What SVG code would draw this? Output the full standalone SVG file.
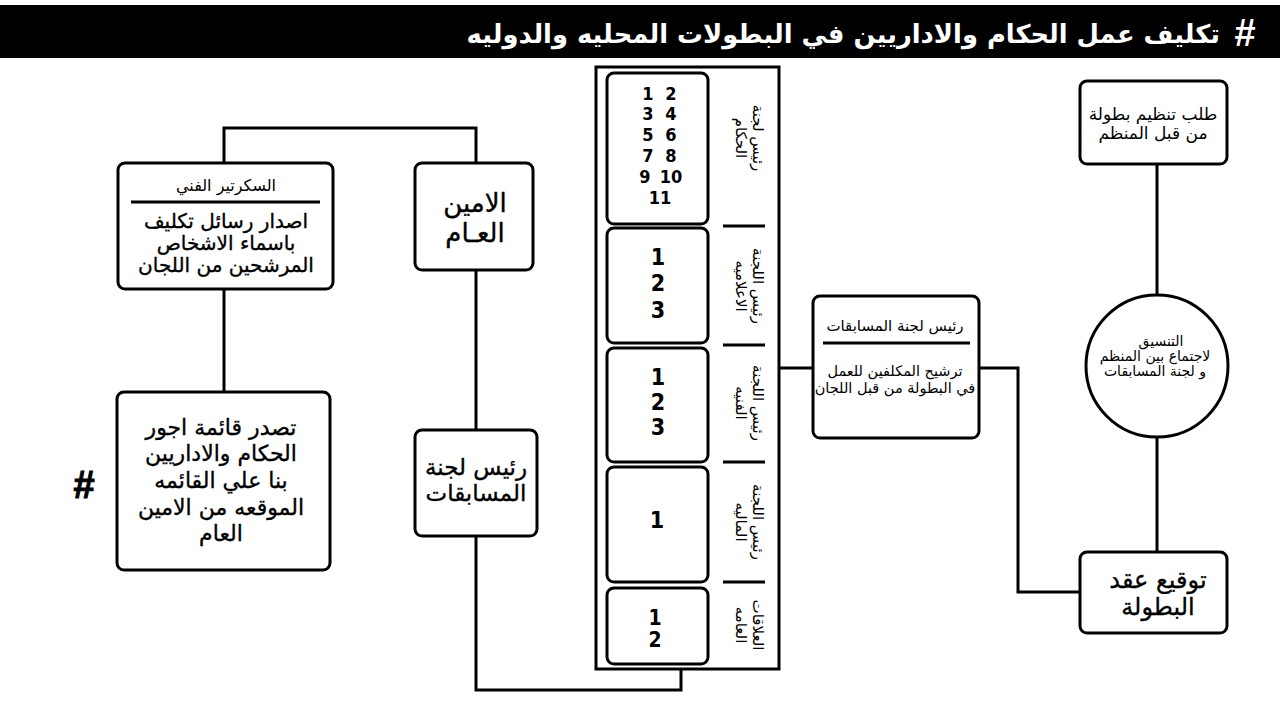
<svg xmlns="http://www.w3.org/2000/svg" width="1280" height="716" viewBox="0 0 1280 716">
<style>
.box{fill:#fff;stroke:#000;stroke-width:3}
.ln{fill:none;stroke:#000;stroke-width:3}
.ar{font-family:"DejaVu Sans",sans-serif;fill:#000;text-anchor:middle}
.thick{stroke:#000;stroke-width:0.35}
.num{font-family:"DejaVu Sans Condensed","Liberation Sans Narrow",sans-serif;fill:#000;text-anchor:middle;font-weight:bold}
.hash{font-family:"Liberation Sans",sans-serif;font-weight:bold;text-anchor:middle}
</style>
<rect x="0" y="0" width="1280" height="716" fill="#fff"/>
<g id="header">
<rect x="0" y="5" width="1280" height="53" fill="#000"/>
<text class="hash" x="1245" y="46" font-size="38" fill="#fff">#</text>
<text class="ar" x="1220" y="43" font-size="25.8" font-weight="bold" style="text-anchor:end;fill:#fff">تكليف عمل الحكام والاداريين في البطولات المحليه والدوليه</text>
</g>
<g id="connectors">
<path class="ln" d="M224,163 V128 H476 V163"/>
<path class="ln" d="M224,289 V392"/>
<path class="ln" d="M476,270 V430"/>
<path class="ln" d="M476,536 V690 H681 V669"/>
<path class="ln" d="M779,368 H813"/>
<path class="ln" d="M978,368 H1018 V592 H1080"/>
<path class="ln" d="M1157,163 V295"/>
<path class="ln" d="M1157,437 V552"/>
</g>
<g id="secretary">
<rect class="box" x="118" y="163" width="215" height="126" rx="7"/>
<line class="ln" x1="131" y1="202" x2="320" y2="202"/>
<text class="ar" x="226" y="191" font-size="16">السكرتير الفني</text>
<text class="ar thick" x="226" y="228" font-size="20">اصدار رسائل تكليف</text>
<text class="ar thick" x="226" y="250" font-size="20">باسماء الاشخاص</text>
<text class="ar thick" x="226" y="272" font-size="20">المرشحين من اللجان</text>
</g>
<g id="wages">
<rect class="box" x="117" y="392" width="213" height="178" rx="7"/>
<text class="ar thick" x="221" y="435" font-size="22">تصدر قائمة اجور</text>
<text class="ar thick" x="221" y="461" font-size="22">الحكام والاداريين</text>
<text class="ar thick" x="221" y="488" font-size="22">بنا علي القائمه</text>
<text class="ar thick" x="221" y="515" font-size="22">الموقعه من الامين</text>
<text class="ar thick" x="221" y="541" font-size="22">العام</text>
</g>
<text id="hash-left" class="hash" x="84" y="498" font-size="38" fill="#000" stroke="#000" stroke-width="1">#</text>
<g id="secretary-general">
<rect class="box" x="415" y="163" width="118" height="107" rx="7"/>
<text class="ar thick" x="475" y="212" font-size="26">الامين</text>
<text class="ar thick" x="475" y="242" font-size="26">العـام</text>
</g>
<g id="competitions-head">
<rect class="box" x="415" y="430" width="122" height="106" rx="7"/>
<text class="ar thick" x="476" y="475" font-size="23">رئيس لجنة</text>
<text class="ar thick" x="476" y="501" font-size="23">المسابقات</text>
</g>
<g id="committees">
<rect class="ln" x="596" y="67" width="183" height="602"/>
<g id="referees">
<rect class="box" x="607" y="73" width="101" height="151" rx="7"/>
<text class="num" font-size="18"><tspan x="648" y="100">1</tspan><tspan x="671" y="100">2</tspan><tspan x="648" y="120">3</tspan><tspan x="671" y="120">4</tspan><tspan x="648" y="141">5</tspan><tspan x="671" y="141">6</tspan><tspan x="648" y="162">7</tspan><tspan x="671" y="162">8</tspan><tspan x="645" y="183">9</tspan><tspan x="671" y="183">10</tspan><tspan x="660" y="204">11</tspan></text>
<text class="ar" font-size="15" transform="translate(753,138) rotate(90)">رئيس لجنة</text>
<text class="ar" font-size="15" transform="translate(736,138) rotate(90)">الحكام</text>
</g>
<g id="media">
<rect class="box" x="607" y="228" width="101" height="115" rx="7"/>
<text class="num" font-size="23" x="658" y="265">1</text>
<text class="num" font-size="23" x="658" y="291">2</text>
<text class="num" font-size="23" x="658" y="318">3</text>
<text class="ar" font-size="15" transform="translate(753,286) rotate(90)">رئيس اللجنة</text>
<text class="ar" font-size="15" transform="translate(736,286) rotate(90)">الاعلاميه</text>
</g>
<g id="technical">
<rect class="box" x="607" y="348" width="101" height="114" rx="7"/>
<text class="num" font-size="23" x="658" y="385">1</text>
<text class="num" font-size="23" x="658" y="410">2</text>
<text class="num" font-size="23" x="658" y="435">3</text>
<text class="ar" font-size="15" transform="translate(753,403) rotate(90)">رئيس اللجنة</text>
<text class="ar" font-size="15" transform="translate(736,403) rotate(90)">الفنيه</text>
</g>
<g id="finance">
<rect class="box" x="607" y="467" width="101" height="115" rx="7"/>
<text class="num" font-size="23" x="657" y="528">1</text>
<text class="ar" font-size="15" transform="translate(753,522) rotate(90)">رئيس اللجنة</text>
<text class="ar" font-size="15" transform="translate(736,522) rotate(90)">الماليه</text>
</g>
<g id="relations">
<rect class="box" x="607" y="588" width="101" height="76" rx="7"/>
<text class="num" font-size="21" x="655" y="625">1</text>
<text class="num" font-size="21" x="655" y="647">2</text>
<text class="ar" font-size="15" transform="translate(753,625) rotate(90)">العلاقات</text>
<text class="ar" font-size="15" transform="translate(736,625) rotate(90)">العامه</text>
</g>
<g id="separators">
<line class="ln" x1="723" y1="226" x2="765" y2="226"/>
<line class="ln" x1="723" y1="345" x2="765" y2="345"/>
<line class="ln" x1="723" y1="462" x2="765" y2="462"/>
<line class="ln" x1="723" y1="582" x2="765" y2="582"/>
</g>
</g>
<g id="competitions-chair">
<rect class="box" x="813" y="296" width="166" height="142" rx="7"/>
<line class="ln" x1="823" y1="343" x2="970" y2="343"/>
<text class="ar" x="895" y="331" font-size="15">رئيس لجنة المسابقات</text>
<text class="ar" x="895" y="376" font-size="14.5">ترشيح المكلفين للعمل</text>
<text class="ar" x="895" y="393" font-size="14.5">في البطولة من قبل اللجان</text>
</g>
<g id="request">
<rect class="box" x="1080" y="81" width="147" height="83" rx="7"/>
<text class="ar" x="1153" y="120" font-size="17">طلب تنظيم بطولة</text>
<text class="ar" x="1153" y="139" font-size="17">من قبل المنظم</text>
</g>
<g id="coordination">
<circle class="box" cx="1157" cy="366" r="71"/>
<text class="ar" x="1161" y="346" font-size="14">التنسيق</text>
<text class="ar" x="1155" y="361" font-size="14">لاجتماع بين المنظم</text>
<text class="ar" x="1155" y="376" font-size="14">و لجنة المسابقات</text>
</g>
<g id="contract">
<rect class="box" x="1080" y="552" width="147" height="81" rx="7"/>
<text class="ar thick" x="1158" y="588" font-size="24">توقيع عقد</text>
<text class="ar thick" x="1158" y="615" font-size="24">البطولة</text>
</g>
</svg>
